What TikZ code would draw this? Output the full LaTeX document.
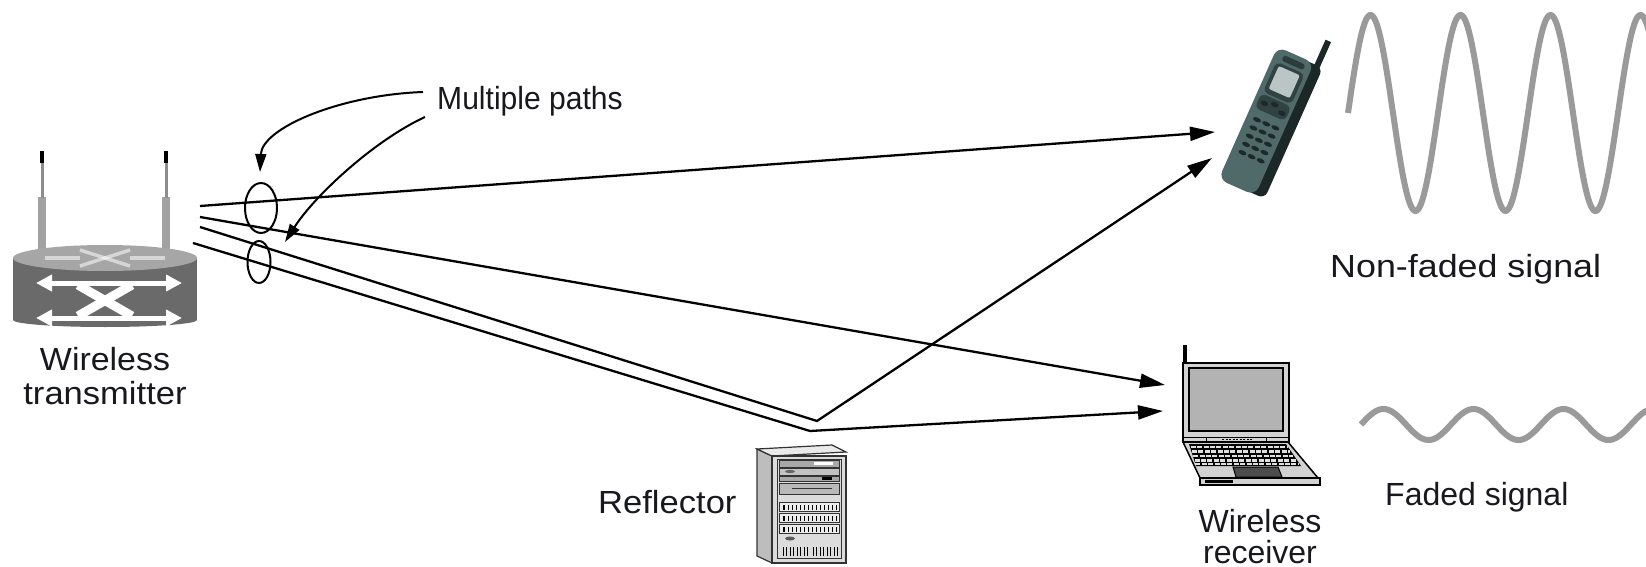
\documentclass[tikz,border=0pt]{standalone}
\usepackage{fontspec}
\setmainfont{Liberation Sans}
\usetikzlibrary{arrows.meta}
\definecolor{txt}{HTML}{18181F}
\definecolor{routerbody}{HTML}{6A6A6A}
\definecolor{routertop}{HTML}{A6A6A6}
\definecolor{antgray}{HTML}{A2A2A2}
\definecolor{antthin}{HTML}{8C8C8C}
\definecolor{wavegray}{HTML}{9A9A9A}
\definecolor{phonebody}{HTML}{506A6A}
\definecolor{phonedark}{HTML}{1C2828}
\definecolor{phonescreen}{HTML}{BAC6C6}
\definecolor{phonekey}{HTML}{1E2A2A}
\definecolor{lapgray}{HTML}{B3B3B3}
\definecolor{lapbase}{HTML}{D2D2D2}
\definecolor{srvface}{HTML}{DCDCDC}
\definecolor{srvside}{HTML}{BDBDBD}
\definecolor{srvpanel}{HTML}{A8A8A8}
\begin{document}
\begin{tikzpicture}[x=1pt,y=-1pt,
  lbl/.style={inner sep=0pt,text=txt,font=\fontsize{32pt}{32pt}\selectfont},
  ray/.style={line width=2.3pt,black,line join=miter},
  rayhead/.style={-{Triangle[length=25pt,width=14pt]}},
  pointer/.style={line width=2pt,black,-{Triangle[length=18pt,width=11pt]}},
  pathell/.style={line width=2pt,black},
  wave/.style={line width=6pt,wavegray},
  outl/.style={draw=black,line width=1.3pt}]
\useasboundingbox (0,0) rectangle (1646,567);
\fill[white] (0,0) rectangle (1646,567);

% ---------------- router (wireless transmitter)
\fill[antgray] (38,197) rectangle (46,252);
\fill[antgray] (162,197) rectangle (170,252);
\draw[antthin,line width=3pt] (42,162) -- (42,198);
\draw[antthin,line width=3pt] (166,162) -- (166,198);
\fill[black] (40,151) rectangle (44,163);
\fill[black] (164,151) rectangle (168,163);
\fill[routerbody] (13,258) rectangle (197,320);
\fill[routerbody] (105,320) ellipse [x radius=92, y radius=7];
\fill[routertop] (105,258) ellipse [x radius=92, y radius=13];
\begin{scope}[white,opacity=.55,line width=3.5pt]
  \draw (45,258) -- (80,258);
  \draw (130,258) -- (165,258);
  \draw (80,250) -- (130,266);
  \draw (80,266) -- (130,250);
\end{scope}
\begin{scope}[white]
  \draw[line width=5pt,{Triangle[length=16pt,width=16pt]}-{Triangle[length=16pt,width=16pt]}] (36,283) -- (182,283);
  \draw[line width=5pt,{Triangle[length=16pt,width=16pt]}-{Triangle[length=16pt,width=16pt]}] (36,318) -- (182,318);
  \draw[line width=9pt] (78,285) -- (132,316);
  \draw[line width=9pt] (132,285) -- (78,316);
\end{scope}
\node[lbl,anchor=base] (wt1) at (105,370) {\scalebox{1.06}[1]{Wireless}};
\node[lbl,anchor=base] (wt2) at (105,404) {\scalebox{1.08}[1]{transmitter}};

% ---------------- reflector (server)
\filldraw[fill=srvside,draw=black!80,line width=1.2pt] (757,449) -- (772,456) -- (772,563) -- (757,556) -- cycle;
\filldraw[fill=srvface!60!white,draw=black!80,line width=1.2pt] (757,449) -- (832,445) -- (846,452) -- (772,456) -- cycle;
\filldraw[fill=srvface,draw=black!80,line width=1.2pt] (772,456) rectangle (846,563);
\draw[black!80,line width=1pt] (777,459) rectangle (841,558);
\filldraw[fill=srvpanel,draw=black!80,line width=1pt] (779,460) rectangle (839,467);
\fill[white] (814,462) rectangle (833,465);
\filldraw[fill=srvpanel!70!white,draw=black!80,line width=1pt] (779,468) rectangle (839,475);
\fill[black!60] (790,471.5) ellipse [x radius=5, y radius=1.6];
\filldraw[fill=srvpanel,draw=black!80,line width=1pt] (779,476) rectangle (839,481);
\fill[black] (822,477) rectangle (832,480);
\filldraw[fill=srvpanel!80!white,draw=black!80,line width=1pt] (779,483) rectangle (839,494);
\draw[black!80,line width=1pt] (792,488.5) -- (832,488.5);
\foreach \yy in {502,513,524}{
  \filldraw[fill=white!92!black,draw=black!80,line width=1pt] (779,\yy) rectangle (839,\yy+9);
  \foreach \xx in {788,792,...,836}{\draw[black,line width=0.9pt] (\xx,\yy+3) -- (\xx,\yy+8);}
  \draw[black,line width=1.2pt] (784,\yy+3) -- (784,\yy+8);
}
\fill[black!65] (790,538.5) ellipse [x radius=5, y radius=2];
\foreach \xx in {783,786.5,...,808}{\draw[black,line width=0.9pt] (\xx,547) -- (\xx,556);}
\foreach \xx in {813,816.5,...,838}{\draw[black,line width=0.9pt] (\xx,547) -- (\xx,556);}
\node[lbl,anchor=base west] (refl) at (598,513) {\scalebox{1.08}[1]{Reflector}};

% ---------------- laptop (wireless receiver)
\draw[black,line width=4pt] (1185,345) -- (1185,366);
\filldraw[fill=lapbase,draw=black,line width=2pt] (1183,363) rectangle (1289,442);
\filldraw[fill=lapgray,draw=black,line width=1.5pt] (1189,368) rectangle (1283,431);
\draw[black,line width=1pt] (1183,437) -- (1289,437);
\draw[black,line width=1pt] (1206,437) -- (1206,442);
\draw[black,line width=1pt] (1266,437) -- (1266,442);
\draw[black,line width=1.5pt,dash pattern=on 2pt off 1.5pt] (1222,439.5) -- (1252,439.5);
\filldraw[fill=lapbase,draw=black,line width=1.5pt] (1183,442) -- (1288,442) -- (1318,478) -- (1200,478) -- cycle;
\fill[black] (1189,444) -- (1286,444) -- (1301,466) -- (1196,466) -- cycle;
\foreach \yy in {447,451.5,456,460.5,464}{
  \draw[lapbase!70!white,line width=2.6pt,dash pattern=on 5pt off 1.4pt]
    ({1190+(\yy-444)*6/22},\yy) -- ({1285+(\yy-444)*15/22},\yy);
}
\filldraw[fill=black!70,draw=black,line width=1pt] (1233,467) -- (1278,467) -- (1282,477) -- (1236,477) -- cycle;
\filldraw[fill=lapbase,draw=black,line width=1.5pt] (1200,478) rectangle (1320,485);
\fill[black] (1205,479.5) rectangle (1233,483);
\node[lbl,anchor=base] (wr1) at (1260,532) {Wireless};
\node[lbl,anchor=base] (wr2) at (1260,563) {receiver};

% ---------------- phone
\begin{scope}[shift={(1267,122)},rotate=-24]
  \fill[phonedark] (20,-70) rectangle (26,-99);
  \fill[phonedark,rounded corners=7pt] (8,-72) rectangle (29,71);
  \fill[phonebody,rounded corners=9pt] (-21,-73) rectangle (19,72);
  \fill[phonedark!70!phonebody,rounded corners=3pt] (-12,-68) rectangle (12,-62);
  \fill[phonedark!60!phonebody,rounded corners=5pt] (-16,-59) rectangle (15,-26);
  \fill[phonescreen,rounded corners=2pt] (-12,-56) rectangle (11,-31);
  \fill[phonedark!60!phonebody,rounded corners=5pt] (-17,-24) rectangle (16,-8);
  \fill[phonekey] (-10,-16) ellipse [x radius=4, y radius=2.5];
  \fill[phonekey] (0,-19) ellipse [x radius=4, y radius=2.5];
  \fill[phonekey] (10,-14) ellipse [x radius=4, y radius=2.5];
  \foreach \vv in {2,11,20,29,38}{
    \foreach \uu in {-10,0,10}{
      \fill[phonekey] (\uu,\vv) ellipse [x radius=4.3, y radius=2.2];
    }
  }
\end{scope}

% ---------------- signals
\begin{scope}
  \clip (0,0) rectangle (1646,567);
  \draw[wave] plot[domain=1348:1652,samples=240,smooth] (\x,{113-98*sin(4*(\x-1348))});
  \draw[wave] plot[domain=1361:1652,samples=200,smooth] (\x,{424.5-15.5*sin(4*(\x-1361))});
\end{scope}
\node[lbl,anchor=base west] (nfs) at (1330,277) {\scalebox{1.12}[1]{Non-faded signal}};
\node[lbl,anchor=base west] (fs) at (1385,505) {Faded signal};

% ---------------- paths
\coordinate (t1) at (200,206);
\coordinate (t2) at (200,217);
\coordinate (t3) at (200,227);
\coordinate (t4) at (193,243);
\coordinate (r1) at (817,421);
\coordinate (r2) at (810,431);
\coordinate (p1) at (1215,132);
\coordinate (p2) at (1212,158);
\coordinate (l1) at (1165,385);
\coordinate (l2) at (1163,411);
\draw[ray,rayhead] (t1) -- (p1);
\draw[ray,rayhead] (t2) -- (l1);
\draw[ray,rayhead] (t3) -- (r1) -- (p2);
\draw[ray,rayhead] (t4) -- (r2) -- (l2);

\draw[pathell] (261,208) ellipse [x radius=16, y radius=25];
\draw[pathell] (259,262) ellipse [x radius=11.5, y radius=21];

% ---------------- multiple paths label and pointers
\node[lbl,anchor=base west] (mp) at (437,110) {\scalebox{0.94}[1]{Multiple paths}};
\coordinate (ma1) at (423,92);
\coordinate (ma2) at (425,117);
\coordinate (me1) at (260,172);
\coordinate (me2) at (285,242);
\draw[pointer] (ma1) .. controls (340,95) and (262,128) .. (me1);
\draw[pointer] (ma2) .. controls (375,140) and (315,195) .. (me2);
\end{tikzpicture}
\end{document}
